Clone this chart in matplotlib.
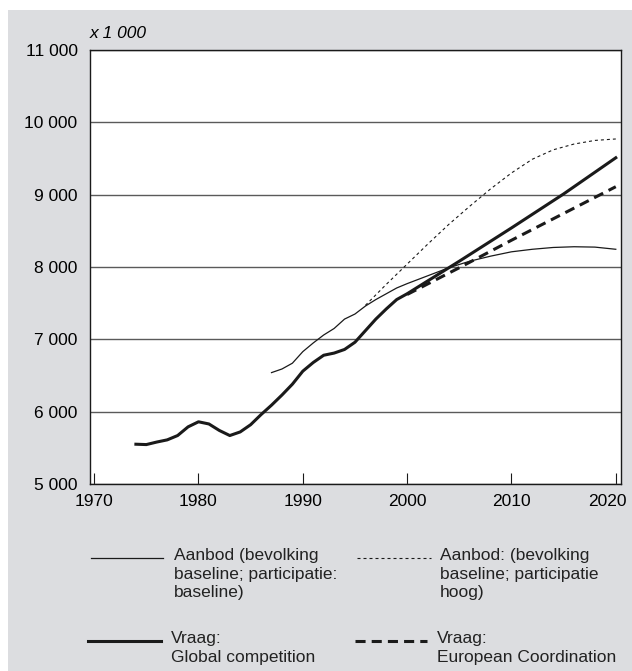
import numpy as np
import matplotlib
matplotlib.use("Agg")
import matplotlib.pyplot as plt
from matplotlib.lines import Line2D
from matplotlib.patches import Rectangle
from matplotlib.transforms import ScaledTranslation

plt.rcParams['font.family'] = ['Liberation Sans', 'DejaVu Sans']

# Vraag: Global competition (thick solid)
vraag_gc_years = [1974, 1975, 1976, 1977, 1978, 1979, 1980, 1981, 1982, 1983, 1984,
                  1985, 1986, 1987, 1988, 1989, 1990, 1991, 1992, 1993, 1994, 1995,
                  1996, 1997, 1998, 1999, 2000, 2005, 2010, 2015, 2020]
vraag_gc = [5550, 5545, 5580, 5610, 5670, 5790, 5860, 5830, 5740, 5670, 5720,
            5820, 5960, 6090, 6230, 6380, 6560, 6680, 6780, 6810, 6860, 6960,
            7120, 7280, 7420, 7550, 7630, 8080, 8540, 9010, 9510]

# Vraag: European Coordination (thick dashed)
vraag_ec_years = [2000, 2005, 2010, 2015, 2020]
vraag_ec = [7620, 7990, 8370, 8740, 9110]

# Aanbod baseline (thin solid)
aanbod_base_years = [1987, 1988, 1989, 1990, 1991, 1992, 1993, 1994, 1995, 1996,
                     1997, 1998, 1999, 2000, 2002, 2004, 2006, 2008, 2010, 2012,
                     2014, 2016, 2018, 2020]
aanbod_base = [6540, 6590, 6670, 6830, 6950, 7060, 7150, 7280, 7350, 7460,
               7550, 7630, 7710, 7770, 7880, 7990, 8080, 8150, 8210, 8245,
               8270, 8280, 8275, 8245]

# Aanbod participatie hoog (thin dotted)
aanbod_hoog_years = [1996, 1998, 2000, 2002, 2004, 2006, 2008, 2010, 2012, 2014,
                     2016, 2018, 2020]
aanbod_hoog = [7470, 7760, 8040, 8320, 8590, 8840, 9080, 9300, 9490, 9620,
               9700, 9750, 9770]

x_ticks = [1970, 1980, 1990, 2000, 2010, 2020]
y_ticks = [5000, 6000, 7000, 8000, 9000, 10000, 11000]
y_labels = ['5 000', '6 000', '7 000', '8 000', '9 000', '10 000', '11 000']

legend_labels = ['Aanbod (bevolking\nbaseline; participatie:\nbaseline)',
                 'Aanbod: (bevolking\nbaseline; participatie\nhoog)',
                 'Vraag:\nGlobal competition',
                 'Vraag:\nEuropean Coordination']

W, H = 632, 671
fig = plt.figure(figsize=(W / 100, H / 100), dpi=100, facecolor='white')

def fx(px):
    return px / W

def fy(py):
    return 1 - py / H

# grey panel
fig.add_artist(Rectangle((fx(8), 0), 1 - fx(8), fy(10), transform=fig.transFigure,
                         facecolor='#dcdde0', edgecolor='none', zorder=-5))

ax = fig.add_axes([fx(90), fy(484), fx(621) - fx(90), fy(50) - fy(484)])
ax.set_facecolor('white')

ink = '#1a1a1a'
ax.plot(aanbod_base_years, aanbod_base, color=ink, lw=0.9, zorder=3)
ax.plot(aanbod_hoog_years, aanbod_hoog, color=ink, lw=0.8, linestyle=(0, (2.7, 2.7)), zorder=3)
ax.plot(vraag_gc_years, vraag_gc, color=ink, lw=2.2, zorder=4)
ax.plot(vraag_ec_years, vraag_ec, color=ink, lw=2.2, linestyle=(0, (3.3, 2.0)), zorder=4)

ax.set_xlim(1969.6, 2020.5)
ax.set_ylim(5000, 11000)
ax.set_xticks(x_ticks)
ax.set_yticks(y_ticks)
ax.set_yticklabels(y_labels)
ax.yaxis.grid(True, color='#5a5a5a', lw=1.0)
ax.set_axisbelow(True)
ax.tick_params(axis='x', direction='in', length=8, width=0.8, color=ink,
               labelsize=12.5, pad=7.5)
ax.tick_params(axis='y', length=0, labelsize=12.5, pad=9)
for s in ax.spines.values():
    s.set_color(ink)
    s.set_linewidth(1.0)

# last year label sits a bit left so it stays inside the picture
last = ax.get_xticklabels()[-1]
last.set_transform(last.get_transform() + ScaledTranslation(-8 / 100, 0, fig.dpi_scale_trans))

fig.text(fx(90), fy(33), 'x 1 000', fontsize=12.5, style='italic', va='center', ha='left')

# legend drawn by hand
styles = [dict(lw=0.9, ls='-'),
          dict(lw=0.8, ls=(0, (2.7, 2.7))),
          dict(lw=2.2, ls='-'),
          dict(lw=2.2, ls=(0, (3.3, 2.0)))]
line_pos = [(91, 163, 558), (357, 431, 558), (88, 161, 641), (355, 427, 641)]
text_pos = [(174, 548), (440, 548), (171, 631), (437, 631)]
for lab, st, (x0, x1, yy), (tx, ty) in zip(legend_labels, styles, line_pos, text_pos):
    fig.add_artist(Line2D([fx(x0), fx(x1)], [fy(yy), fy(yy)], transform=fig.transFigure,
                          color=ink, linewidth=st['lw'], linestyle=st['ls']))
    fig.text(fx(tx), fy(ty), lab, fontsize=12.5, va='top', ha='left', linespacing=1.3,
             color='#222222')

fig.savefig('out.png', dpi=100, facecolor='white')
